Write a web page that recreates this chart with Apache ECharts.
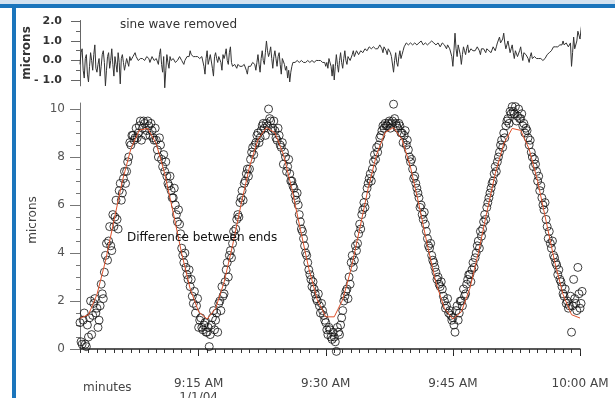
<!DOCTYPE html>
<html><head><meta charset="utf-8">
<script src="https://cdn.jsdelivr.net/npm/echarts@6/dist/echarts.min.js"></script>
<style>html,body{margin:0;padding:0;background:#fff}#c{width:615px;height:398px}</style>
</head><body><div id="c"></div>
<script>
// sampling grid (minutes after 9:00 AM): set A at 1.000 + k*0.25, set B at 1.125 + k*0.25
const sampleStartA = 1, sampleStartB = 1.125, sampleStep = 0.25;

// "sine wave removed" residual (microns)
const residualA = [
 -0.2,0.6,-0.9,0.3, -1.1,0.4,-0.5,0.8, -0.6,0.1,-0.3,0.5, -1.3,0.2,-0.4,0.6,
 -0.8,-0.2,0.4,-1.2, 0.3,-0.5,0.1,-0.3, 0.0,0.2,0.4,0.1, -0.1,0.2,0.0,0.1,
 0.3,-0.1,0.2,0.0, 0.1,-0.2,0.6,-0.6, -1.4,0.3,-0.4,0.0, 0.1,-0.1,0.0,0.2,
 0.0,-0.2,0.1,0.3, 0.5,0.2,0.3,0.1, 0.2,0.0,0.3,-0.7, 0.5,-0.3,0.2,-0.8,
 0.4,-0.1,0.3,-0.5, 0.1,0.6,-0.2,0.7, -0.3,-0.2,-0.4,-0.3, -0.2,-0.4,-0.3,-0.7,
 -0.2,-0.3,0.0,-0.5, 0.3,-0.6,0.5,-0.2, 1.0,0.2,0.7,-0.4, 0.5,-0.3,0.4,-0.7,
 0.2,-0.5,-0.9,-1.1, -0.3,0.0,-0.1,0.0, -0.1,0.0,-0.2,-0.1, 0.0,-0.1,0.0,-0.1,
 0.0,0.1,-0.1,-0.2, -0.3,-0.4,0.2,-0.8, -1.0,0.3,-0.6,0.4, -0.4,0.5,-0.2,0.3,
 0.1,0.5,0.2,0.4, 0.3,0.6,0.5,0.7, 0.6,0.7,0.5,0.8, 0.7,0.6,0.9,0.4,
 0.8,0.3,0.6,0.2, -0.6,0.4,-0.3,0.5, 0.3,0.7,0.9,0.8, 0.9,0.8,0.9,0.8,
 0.9,1.0,0.8,0.9, 0.8,0.9,1.0,0.9, 0.8,0.9,0.7,0.9, 0.8,0.6,0.9,0.5,
 -0.3,1.4,0.2,0.9, -0.2,0.7,0.3,0.8, 0.5,0.7,0.4,0.6, 0.8,0.3,0.7,0.5,
 0.6,0.5,0.4,0.7, 0.5,0.9,1.2,0.8, 1.4,0.6,1.0,0.4, 0.8,0.1,0.6,0.3,
 0.7,0.0,0.5,0.2, -0.1,0.4,0.1,0.2, 0.0,0.2,0.1,0.0, 0.2,0.3,0.5,0.6,
 0.7,0.8,0.6,0.9, 1.0,0.7,0.9,0.8, -0.3,1.2,0.5,1.5, 1.1,2.0
];
const residualB = [
 0.4,-0.5,0.1,-0.7, -0.3,0.0,0.3,-0.4, -0.2,-0.8,0.3,-0.1, -0.5,0.4,0.0,-0.2,
 0.2,-0.6,-0.1,0.1, -0.1,-0.2,0.0,0.2, 0.1,0.3,0.2,0.0, 0.1,0.1,0.0,0.2,
 0.1,0.0,0.1,0.1, 0.0,0.3,-0.2,0.2, -0.5,-0.1,0.2,-0.1, 0.0,0.0,0.1,0.1,
 -0.1,0.0,0.2,0.2, 0.3,0.2,0.2,0.2, 0.1,0.2,-0.3,0.1, -0.2,0.3,-0.4,0.2,
 0.1,0.2,-0.1,0.3, 0.3,0.0,0.4,-0.1, -0.2,-0.3,-0.2,-0.3, -0.3,-0.2,-0.5,-0.3,
 -0.3,-0.1,-0.2,-0.1, -0.2,0.1,0.0,0.4, 0.5,0.4,0.1,0.2, 0.1,0.2,-0.2,0.1,
 -0.2,-0.3,-0.5,-0.6, -0.1,-0.1,0.0,-0.1, 0.0,-0.1,-0.1,0.0, -0.1,0.0,-0.1,0.0,
 0.0,0.0,-0.1,-0.1, -0.1,0.1,-0.3,-0.2, -0.3,-0.2,0.0,-0.1, 0.1,0.0,0.2,0.0,
 0.3,0.2,0.5,0.3, 0.5,0.4,0.6,0.5, 0.7,0.6,0.7,0.6, 0.6,0.8,0.6,0.7,
 0.5,0.6,0.4,0.1, 0.0,-0.1,0.2,0.1, 0.5,0.8,0.8,0.9, 0.8,0.9,0.8,0.9,
 0.9,0.9,0.9,0.8, 0.9,0.9,0.9,0.8, 0.9,0.8,0.8,0.8, 0.7,0.8,0.6,0.2,
 0.5,0.6,0.8,0.3, 0.3,0.5,0.6,0.4, 0.6,0.5,0.5,0.7, 0.5,0.6,0.6,0.4,
 0.5,0.6,0.5,0.6, 0.7,1.0,0.9,1.1, 0.9,0.8,0.7,0.6, 0.4,0.5,0.2,0.5,
 0.3,0.4,0.3,0.1, 0.2,0.1,0.2,0.1, 0.1,0.1,0.0,0.1, 0.3,0.4,0.5,0.7,
 0.7,0.7,0.8,0.8, 0.8,0.9,0.7,0.9, 0.4,0.6,1.0,1.3, 1.6
];

// measured difference between ends (microns)
const measuredA = [
 1.1,0.2,1.5,0.1, 0.5,2.0,1.4,2.1, 1.7,1.2,2.7,2.1, 3.9,3.7,5.1,4.1,
 5.1,6.2,5.0,6.9, 6.5,7.4,7.4,8.0, 8.5,8.9,8.8,8.8, 9.3,8.7,9.5,8.9,
 9.5,8.9,9.1,8.7, 8.7,8.0,8.5,7.6, 7.4,7.2,6.8,6.6, 6.3,6.0,5.3,5.2,
 4.2,3.6,3.4,2.9, 2.6,2.2,2.4,1.8, 0.9,1.3,0.8,1.1, 0.7,0.1,1.0,1.6,
 1.2,0.7,2.0,2.6, 2.3,3.3,3.0,4.1, 4.4,4.7,5.4,5.5, 6.3,6.2,7.0,7.5,
 7.5,8.2,8.1,8.6, 9.0,8.8,9.3,9.2, 9.4,10.0,9.5,9.2, 9.1,8.7,8.9,8.4,
 7.7,8.0,7.6,7.3, 7.0,6.7,6.2,6.0, 5.3,4.9,4.3,3.9, 3.3,2.9,2.8,2.3,
 2.0,1.8,1.9,1.4, 1.1,0.6,0.8,0.4, 0.5,-0.1,0.7,1.0, 1.6,2.2,2.5,3.0,
 3.6,3.4,4.3,4.4, 5.2,5.6,6.1,6.4, 6.9,7.3,7.5,8.1, 8.4,8.5,8.9,9.3,
 9.4,9.3,9.5,9.4, 10.2,9.4,9.2,9.3, 9.0,8.9,8.5,8.3, 7.8,7.5,7.2,6.7,
 6.3,6.0,5.4,5.2, 4.6,4.2,3.9,3.6, 3.2,3.0,2.6,2.5, 2.0,1.8,1.5,1.4,
 1.3,0.7,1.8,1.5, 2.0,2.5,2.3,2.9, 3.1,3.3,3.4,4.0, 4.5,4.9,5.0,5.6,
 5.9,6.3,6.7,7.0, 7.6,7.8,8.2,8.7, 9.0,9.3,9.6,9.9, 10.1,9.8,9.5,10.0,
 9.6,9.3,9.0,9.1, 8.5,8.2,7.6,7.7, 7.0,6.6,6.3,5.8, 5.4,4.6,4.4,4.5,
 3.8,3.5,3.3,2.8, 2.3,2.5,2.0,1.8, 0.7,2.9,1.9,3.4, 1.7,2.4
];
const measuredB = [
 0.3,1.2,0.2,1.0, 1.3,0.6,1.9,1.5, 0.9,1.8,2.3,3.2, 4.4,4.5,4.3,5.6,
 5.5,5.4,6.6,6.2, 7.1,6.9,7.8,8.6, 8.9,8.7,9.2,9.0, 9.5,9.2,9.4,9.1,
 9.3,9.4,8.8,9.2, 8.3,8.8,7.9,8.1, 7.8,6.9,7.2,6.3, 6.7,5.6,5.8,4.8,
 3.9,4.0,3.1,3.3, 2.9,1.9,1.5,2.1, 1.2,0.9,1.0,0.7, 0.9,0.6,1.3,0.8,
 1.5,1.9,1.6,2.2, 2.8,3.6,3.9,3.8, 4.9,5.0,5.6,6.1, 6.6,6.9,7.3,7.2,
 7.9,8.4,8.5,8.9, 8.6,9.1,9.4,8.9, 9.3,9.6,9.1,9.5, 8.8,9.2,8.5,8.6,
 8.2,7.4,7.9,7.0, 6.8,6.4,6.5,5.6, 5.0,4.6,4.0,3.6, 3.1,2.6,2.5,2.1,
 2.3,1.5,1.6,1.2, 0.8,0.9,0.5,0.7, 0.3,0.9,0.6,1.3, 2.0,2.4,2.1,2.7,
 3.9,3.7,4.1,4.8, 5.0,5.8,5.9,6.7, 7.1,7.0,7.8,7.9, 8.2,8.8,9.1,9.2,
 9.3,9.4,9.2,9.5, 9.6,9.3,9.4,9.0, 8.6,9.1,8.7,8.0, 7.9,7.1,6.9,6.5,
 5.9,5.6,5.7,4.9, 4.3,4.4,3.7,3.4, 2.9,2.7,2.8,2.2, 1.7,2.1,1.6,1.2,
 1.0,1.6,1.2,2.0, 1.8,2.2,2.7,3.1, 2.8,3.6,3.8,4.3, 4.2,4.7,5.3,5.4,
 6.1,6.5,6.9,7.3, 7.4,8.0,8.5,8.4, 8.8,9.5,9.4,9.8, 9.9,10.1,9.7,9.6,
 9.8,9.4,9.2,8.8, 8.7,8.0,7.9,7.4, 7.2,6.8,6.0,6.1, 5.1,4.9,4.2,3.9,
 3.6,3.1,2.9,2.6, 2.2,1.9,1.7,2.2, 1.8,2.1,1.6,2.3, 1.9
];

// fitted sine (red), read at whole minutes
const fitMinutes = [1,2,3,4,5,6,7,8,9,10,11,12,13,14,15,16,17,18,19,20,21,22,23,24,25,26,27,28,29,30,
 31,32,33,34,35,36,37,38,39,40,41,42,43,44,45,46,47,48,49,50,51,52,53,54,55,56,57,58,59,60];
const fitValues = [1.28,1.43,2.27,3.66,5.34,7.00,8.34,9.12,9.19,8.55,7.30,5.68,3.98,2.51,1.55,1.25,1.69,2.78,4.31,6.02,
 7.59,8.73,9.23,9.01,8.11,6.68,4.99,3.35,2.05,1.34,1.34,2.06,3.35,5.00,6.69,8.11,9.02,9.23,8.73,7.58,
 6.01,4.31,2.77,1.69,1.25,1.55,2.52,3.99,5.69,7.31,8.55,9.19,9.11,8.33,6.99,5.33,3.65,2.27,1.43,1.29];

const xTickValues = [15, 30, 45, 60];
const xTickLabels = ['9:15 AM\n1/1/04', '9:30 AM', '9:45 AM', '10:00 AM'];
const yTickValues = [0, 2, 4, 6, 8, 10];
const yTickLabels = ['0', '2', '4', '6', '8', '10'];
const topTickValues = [-1, 0, 1, 2];
const topTickLabels = ['- 1.0', '0.0', '1.0', '2.0'];

const minuteTicks = fitMinutes.slice();
const halfTicks = [];
for (let v = 0; v <= 10; v += 0.5) halfTicks.push(v);
const topHalfTicks = [];
for (let v = -1; v <= 2; v += 0.5) topHalfTicks.push(v);

function merge(a, b) {
  const pts = a.map((v, i) => [sampleStartA + i * sampleStep, v])
    .concat(b.map((v, i) => [sampleStartB + i * sampleStep, v]));
  pts.sort((p, q) => p[0] - q[0]);
  return pts;
}
const residualPts = merge(residualA, residualB);
const measuredPts = merge(measuredA, measuredB);
const fitPts = fitValues.map((v, i) => [fitMinutes[i], v]);

const FONT = 'DejaVu Sans';
const chart = echarts.init(document.getElementById('c'), null, {renderer: 'canvas'});
const lbl = (vals, labs) => (v) => { const i = vals.findIndex(t => Math.abs(t - v) < 1e-6); return i >= 0 ? labs[i] : ''; };

chart.setOption({
  animation: false,
  backgroundColor: '#fff',
  grid: [
    {left: 80, right: 35, top: 103, bottom: 49, containLabel: false, outerBoundsMode: 'none'},
    {left: 80, right: 35, top: 20.5, height: 65.35, containLabel: false, outerBoundsMode: 'none'}
  ],
  xAxis: [
    {gridIndex: 0, type: 'value', min: 1, max: 60, position: 'bottom', offset: 9,
     axisLine: {show: true, lineStyle: {color: '#222', width: 1.5}},
     axisTick: {show: true, customValues: xTickValues, length: 7, lineStyle: {color: '#222'}},
     axisLabel: {show: true, customValues: xTickValues, formatter: lbl(xTickValues, xTickLabels), margin: 19,
                 fontSize: 12, fontFamily: FONT, color: '#444', lineHeight: 14},
     splitLine: {show: false}},
    {gridIndex: 0, type: 'value', min: 1, max: 60, position: 'bottom', offset: 9,
     axisLine: {show: false},
     axisTick: {show: true, customValues: minuteTicks, length: 4, lineStyle: {color: '#333'}},
     axisLabel: {show: false}, splitLine: {show: false}},
    {gridIndex: 1, type: 'value', min: 1, max: 60, show: false}
  ],
  yAxis: [
    {gridIndex: 0, type: 'value', min: 0, max: 10.25, position: 'left',
     axisLine: {show: true, lineStyle: {color: '#777', width: 1}},
     axisTick: {show: true, customValues: yTickValues, length: 10, lineStyle: {color: '#777'}},
     axisLabel: {show: true, customValues: yTickValues, formatter: lbl(yTickValues, yTickLabels), margin: 15,
                 fontSize: 12, fontFamily: FONT, color: '#555'},
     splitLine: {show: false}},
    {gridIndex: 0, type: 'value', min: 0, max: 10.25, position: 'left',
     axisLine: {show: false},
     axisTick: {show: true, customValues: halfTicks, length: 4, lineStyle: {color: '#777'}},
     axisLabel: {show: false}, splitLine: {show: false}},
    {gridIndex: 1, type: 'value', min: -1.3, max: 2.05, position: 'left',
     axisLine: {show: true, lineStyle: {color: '#666', width: 1}},
     axisTick: {show: true, customValues: topTickValues, length: 9, lineStyle: {color: '#666'}},
     axisLabel: {show: true, customValues: topTickValues, formatter: lbl(topTickValues, topTickLabels), margin: 18,
                 fontSize: 11, fontFamily: FONT, color: '#333', fontWeight: 'bold'},
     splitLine: {show: false}},
    {gridIndex: 1, type: 'value', min: -1.3, max: 2.05, position: 'left',
     axisLine: {show: false},
     axisTick: {show: true, customValues: topHalfTicks, length: 4, lineStyle: {color: '#666'}},
     axisLabel: {show: false}, splitLine: {show: false}}
  ],
  series: [
    {type: 'line', xAxisIndex: 2, yAxisIndex: 2, data: residualPts, showSymbol: false, clip: false,
     lineStyle: {color: '#333', width: 1}},
    {type: 'scatter', xAxisIndex: 0, yAxisIndex: 0, data: measuredPts, symbol: 'circle', symbolSize: 8, clip: false,
     itemStyle: {color: 'rgba(255,255,255,0)', borderColor: '#111', borderWidth: 1}},
    {type: 'line', xAxisIndex: 0, yAxisIndex: 0, data: fitPts, showSymbol: false, clip: false, z: 5,
     lineStyle: {color: '#e0522c', width: 1}}
  ],
  graphic: [
    {type: 'rect', shape: {x: 0, y: 0, width: 615, height: 4}, style: {fill: '#d3e2f0'}, silent: true},
    {type: 'rect', shape: {x: 0, y: 4, width: 615, height: 4}, style: {fill: '#1b75bc'}, silent: true},
    {type: 'rect', shape: {x: 12, y: 4, width: 4, height: 394}, style: {fill: '#1b75bc'}, silent: true},
    {type: 'text', x: 120, y: 25, style: {text: 'sine wave removed', font: '12px "DejaVu Sans"', fill: '#333', textVerticalAlign: 'middle'}},
    {type: 'text', x: 27, y: 53, rotation: Math.PI / 2, style: {text: 'microns', font: 'bold 12px "DejaVu Sans"', fill: '#333', textAlign: 'center', textVerticalAlign: 'middle'}},
    {type: 'text', x: 33, y: 220, rotation: Math.PI / 2, style: {text: 'microns', font: '12px "DejaVu Sans"', fill: '#444', textAlign: 'center', textVerticalAlign: 'middle'}},
    {type: 'text', x: 127, y: 238, z: 10, style: {text: 'Difference between ends', font: '12px "DejaVu Sans"', fill: '#111', textVerticalAlign: 'middle'}},
    {type: 'text', x: 83, y: 388, style: {text: 'minutes', font: '12px "DejaVu Sans"', fill: '#444', textVerticalAlign: 'middle'}}
  ]
});
</script></body></html>
